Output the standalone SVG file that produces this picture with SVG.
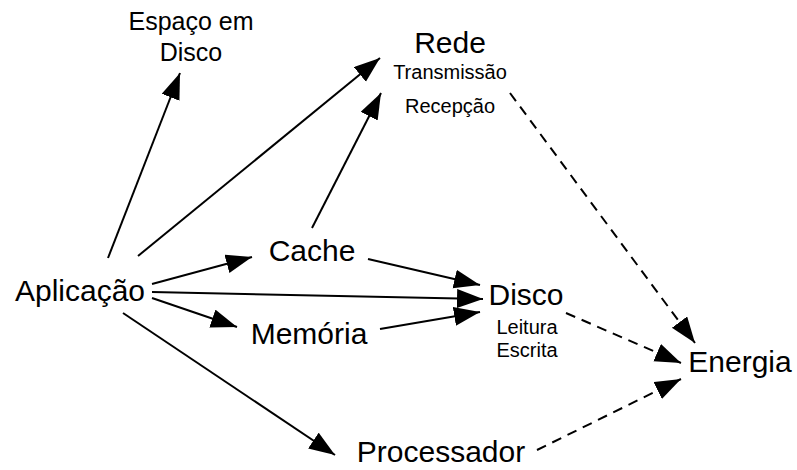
<svg xmlns="http://www.w3.org/2000/svg" width="797" height="470" viewBox="0 0 797 470">
<style>
text{font-family:"Liberation Sans",Arial,sans-serif;fill:#000;text-anchor:middle}
.big{font-size:30px}
.mid{font-size:25px}
.sm{font-size:20px}
.c{stroke:#000;stroke-width:2;fill:none}
.d{stroke-dasharray:10 7}
</style>
<defs>
<marker id="ah" markerUnits="userSpaceOnUse" markerWidth="27" markerHeight="20" refX="26" refY="9.5" orient="auto">
<path d="M0,0 L26,9.5 L0,19 z" fill="#000"/>
</marker>
</defs>
<rect width="797" height="470" fill="#fff"/>
<g id="connectors">
<line class="c" x1="108" y1="258" x2="180" y2="73" marker-end="url(#ah)"/>
<line class="c" x1="138" y1="256" x2="380" y2="58" marker-end="url(#ah)"/>
<line class="c" x1="312" y1="228" x2="381" y2="93" marker-end="url(#ah)"/>
<line class="c" x1="152" y1="284" x2="252" y2="257" marker-end="url(#ah)"/>
<line class="c" x1="152" y1="292" x2="483" y2="299" marker-end="url(#ah)"/>
<line class="c" x1="152" y1="298" x2="237" y2="327" marker-end="url(#ah)"/>
<line class="c" x1="123" y1="313" x2="335" y2="455" marker-end="url(#ah)"/>
<line class="c" x1="368" y1="259" x2="480" y2="285" marker-end="url(#ah)"/>
<line class="c" x1="380" y1="329" x2="480" y2="312" marker-end="url(#ah)"/>
<line class="c d" x1="510" y1="93" x2="695" y2="343" marker-end="url(#ah)"/>
<line class="c d" x1="566" y1="313" x2="681" y2="363" marker-end="url(#ah)"/>
<line class="c d" x1="537" y1="450" x2="681" y2="379" marker-end="url(#ah)"/>
</g>
<g id="espaco"><text class="mid" x="191" y="30">Espaço em</text><text class="mid" x="191" y="61">Disco</text></g>
<g id="rede"><text class="big" x="450" y="53">Rede</text><text class="sm" x="450" y="79">Transmissão</text><text class="sm" x="450" y="113">Recepção</text></g>
<g id="cache"><text class="big" x="312" y="261">Cache</text></g>
<g id="aplicacao"><text class="big" x="80" y="301">Aplicação</text></g>
<g id="disco"><text class="big" x="526" y="305">Disco</text><text class="sm" x="527" y="334">Leitura</text><text class="sm" x="527" y="357">Escrita</text></g>
<g id="memoria"><text class="big" x="309" y="344">Memória</text></g>
<g id="energia"><text class="big" x="740" y="372">Energia</text></g>
<g id="processador"><text class="big" x="441" y="462">Processador</text></g>
</svg>
